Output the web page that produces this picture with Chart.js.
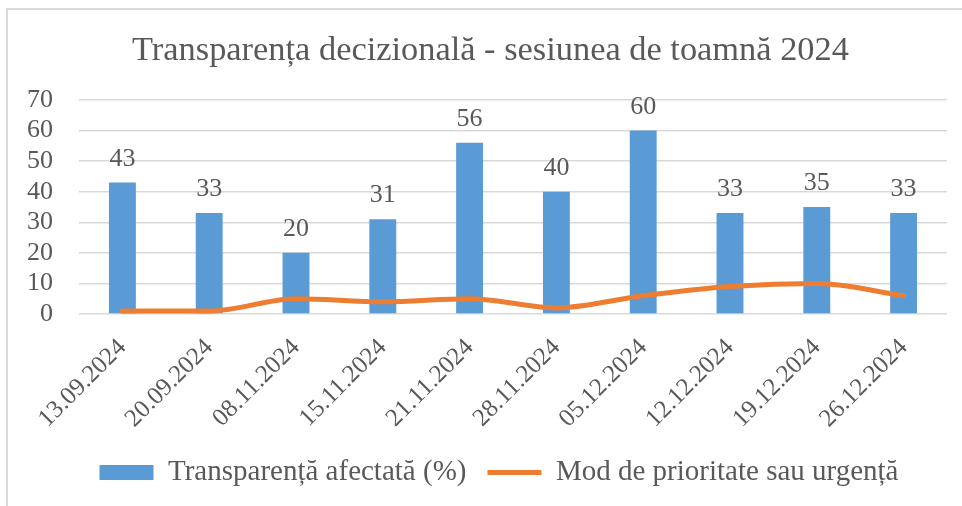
<!DOCTYPE html>
<html lang="ro">
<head>
  <meta charset="UTF-8" />
  <title>Transparența decizională</title>
  <script src="https://cdn.jsdelivr.net/npm/chart.js"></script>
  <style>
    html, body { margin: 0; padding: 0; background: #fff; overflow: hidden; }
    /* chenarul graficului (doar sus si stanga se vad) */
    #frame {
      position: absolute; left: 6px; top: 8px; width: 1000px; height: 600px;
      border-top: 2px solid #d9d9d9; border-left: 2px solid #d9d9d9;
    }
    #wrap { position: absolute; left: 0; top: 0; width: 962px; height: 506px; }
  </style>
</head>
<body>
  <div id="frame"></div>
  <div id="wrap"><canvas id="chart"></canvas></div>

  <script>
    const categories = ['13.09.2024', '20.09.2024', '08.11.2024', '15.11.2024', '21.11.2024',
                        '28.11.2024', '05.12.2024', '12.12.2024', '19.12.2024', '26.12.2024'];
    const transparenta = [43, 33, 20, 31, 56, 40, 60, 33, 35, 33];
    const urgenta = [1, 1, 5, 4, 5, 2, 6, 9, 10, 6];
    const yTicks = [0, 10, 20, 30, 40, 50, 60, 70];
    const titlu = 'Transparența decizională - sesiunea de toamnă 2024';

    const FONT = "'Liberation Serif', serif";
    const GREY = '#595959';

    // titlul, centrat pe chenar (nu pe zona legendei)
    const titlePlugin = {
      id: 'titlu',
      afterDraw(chart) {
        const ctx = chart.ctx;
        ctx.save();
        ctx.font = '34.4px ' + FONT;
        ctx.fillStyle = GREY;
        ctx.textAlign = 'center';
        ctx.textBaseline = 'alphabetic';
        ctx.fillText(titlu, 490.5, 60);
        ctx.restore();
      }
    };

    // etichetele axei y sa nu fie taiate
    const yLabelArea = {
      id: 'yLabelArea',
      afterLayout(chart) { chart.scales.y.left = 0; }
    };

    // etichete cu valori deasupra barelor
    const barLabels = {
      id: 'barLabels',
      afterDatasetsDraw(chart) {
        const meta = chart.getDatasetMeta(0);
        const ctx = chart.ctx;
        ctx.save();
        ctx.font = '26px ' + FONT;
        ctx.fillStyle = GREY;
        ctx.textAlign = 'center';
        ctx.textBaseline = 'alphabetic';
        meta.data.forEach((bar, i) => {
          ctx.fillText(transparenta[i], bar.x, bar.y - 17);
        });
        ctx.restore();
      }
    };

    new Chart(document.getElementById('chart'), {
      type: 'bar',
      data: {
        labels: categories,
        datasets: [{
          label: 'Transparență afectată (%)',
          data: transparenta,
          backgroundColor: '#5b9bd5',
          categoryPercentage: 1,
          barPercentage: 0.31,
          order: 1,
          pointStyle: 'rect'
        }, {
          type: 'line',
          label: 'Mod de prioritate sau urgență',
          data: urgenta,
          borderColor: '#ed7d31',
          backgroundColor: '#ed7d31',
          borderWidth: 5,
          borderCapStyle: 'round',
          pointRadius: 0,
          cubicInterpolationMode: 'monotone',
          order: 0,
          pointStyle: 'line'
        }]
      },
      options: {
        responsive: true,
        maintainAspectRatio: false,
        animation: false,
        layout: { padding: { left: 51, right: 15, top: 100, bottom: 9 } },
        plugins: {
          title: { display: false },
          legend: {
            position: 'bottom',
            labels: {
              color: GREY,
              font: { family: FONT, size: 29 },
              usePointStyle: true,
              pointStyleWidth: 54,
              boxHeight: 15,
              padding: 21,
              sort: (a, b) => a.datasetIndex - b.datasetIndex
            }
          },
          tooltip: { enabled: false }
        },
        scales: {
          x: {
            grid: { display: false },
            border: { display: false },
            ticks: {
              color: GREY,
              font: { family: FONT, size: 25 },
              minRotation: 45,
              maxRotation: 45,
              padding: 11
            },
            afterFit: (scale) => { scale.height = 123; }
          },
          y: {
            min: 0,
            max: 70,
            afterBuildTicks: (scale) => { scale.ticks = yTicks.map(v => ({ value: v })); },
            grid: { color: '#d9d9d9', lineWidth: 1.5, drawTicks: false },
            border: { display: false },
            ticks: {
              color: GREY,
              font: { family: FONT, size: 26 },
              padding: 26,
              autoSkip: false
            },
            afterFit: (scale) => { scale.width = 28; }
          }
        }
      },
      plugins: [titlePlugin, yLabelArea, barLabels]
    });
  </script>
</body>
</html>
